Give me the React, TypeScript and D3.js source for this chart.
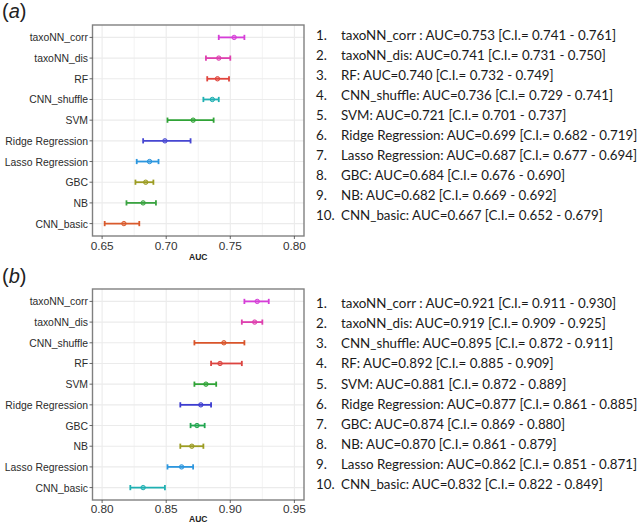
import React from "react";
import * as d3 from "d3";

// ---- Data: panel (a) ----
const modelsA = ["taxoNN_corr", "taxoNN_dis", "RF", "CNN_shuffle", "SVM", "Ridge Regression", "Lasso Regression", "GBC", "NB", "CNN_basic"];
const aucA = [0.753, 0.741, 0.740, 0.736, 0.721, 0.699, 0.687, 0.684, 0.682, 0.667];
const lowA = [0.741, 0.731, 0.732, 0.729, 0.701, 0.682, 0.677, 0.676, 0.669, 0.652];
const highA = [0.761, 0.750, 0.749, 0.741, 0.737, 0.719, 0.694, 0.690, 0.692, 0.679];
const colorsA = ["#d63ed8", "#de3fae", "#e0443c", "#1fb0b2", "#2fa336", "#4646d2", "#2c96de", "#9c9c22", "#3aa341", "#d95a2c"];
const ticksA = [0.65, 0.70, 0.75, 0.80];
const minorA = [0.675, 0.725, 0.775];
const domainA: [number, number] = [0.6425, 0.8075];

// ---- Data: panel (b) ----
const modelsB = ["taxoNN_corr", "taxoNN_dis", "CNN_shuffle", "RF", "SVM", "Ridge Regression", "GBC", "NB", "Lasso Regression", "CNN_basic"];
const aucB = [0.921, 0.919, 0.895, 0.892, 0.881, 0.877, 0.874, 0.870, 0.862, 0.832];
const lowB = [0.911, 0.909, 0.872, 0.885, 0.872, 0.861, 0.869, 0.861, 0.851, 0.822];
const highB = [0.930, 0.925, 0.911, 0.909, 0.889, 0.885, 0.880, 0.879, 0.871, 0.849];
const colorsB = ["#d63ed8", "#de3fae", "#d9542a", "#dc4440", "#2fa336", "#3c3cd0", "#22a650", "#9c9c22", "#2c96de", "#1fb0b2"];
const ticksB = [0.80, 0.85, 0.90, 0.95];
const minorB = [0.825, 0.875, 0.925];
const domainB: [number, number] = [0.7925, 0.9575];

const listA = [
  "taxoNN_corr : AUC=0.753 [C.I.= 0.741 - 0.761]",
  "taxoNN_dis: AUC=0.741 [C.I.= 0.731 - 0.750]",
  "RF: AUC=0.740 [C.I.= 0.732 - 0.749]",
  "CNN_shuffle: AUC=0.736 [C.I.= 0.729 - 0.741]",
  "SVM: AUC=0.721 [C.I.= 0.701 - 0.737]",
  "Ridge Regression: AUC=0.699 [C.I.= 0.682 - 0.719]",
  "Lasso Regression: AUC=0.687 [C.I.= 0.677 - 0.694]",
  "GBC: AUC=0.684 [C.I.= 0.676 - 0.690]",
  "NB: AUC=0.682 [C.I.= 0.669 - 0.692]",
  "CNN_basic: AUC=0.667 [C.I.= 0.652 - 0.679]",
];
const listB = [
  "taxoNN_corr : AUC=0.921 [C.I.= 0.911 - 0.930]",
  "taxoNN_dis: AUC=0.919 [C.I.= 0.909 - 0.925]",
  "CNN_shuffle: AUC=0.895 [C.I.= 0.872 - 0.911]",
  "RF: AUC=0.892 [C.I.= 0.885 - 0.909]",
  "SVM: AUC=0.881 [C.I.= 0.872 - 0.889]",
  "Ridge Regression: AUC=0.877 [C.I.= 0.861 - 0.885]",
  "GBC: AUC=0.874 [C.I.= 0.869 - 0.880]",
  "NB: AUC=0.870 [C.I.= 0.861 - 0.879]",
  "Lasso Regression: AUC=0.862 [C.I.= 0.851 - 0.871]",
  "CNN_basic: AUC=0.832 [C.I.= 0.822 - 0.849]",
];

type PanelProps = {
  top: number;
  bottom: number;
  labelGap: number;
  titleGap: number;
  models: string[];
  auc: number[];
  low: number[];
  high: number[];
  colors: string[];
  ticks: number[];
  minor: number[];
  domain: [number, number];
};

const LEFT = 92.5;
const RIGHT = 304;

function Panel(p: PanelProps) {
  const x = d3.scaleLinear().domain(p.domain).range([LEFT, RIGHT]);
  const y = d3
    .scalePoint<string>()
    .domain(p.models)
    .range([p.top, p.bottom])
    .padding(0.6);
  const grid = "#ebebeb";
  return (
    <g>
      <rect x={LEFT} y={p.top} width={RIGHT - LEFT} height={p.bottom - p.top} fill="white" />
      {p.minor.map((t) => (
        <line key={"mi" + t} x1={x(t)} x2={x(t)} y1={p.top} y2={p.bottom} stroke={grid} strokeWidth={0.6} />
      ))}
      {p.ticks.map((t) => (
        <line key={"ma" + t} x1={x(t)} x2={x(t)} y1={p.top} y2={p.bottom} stroke={grid} strokeWidth={1.1} />
      ))}
      {p.models.map((m) => (
        <line key={"hg" + m} x1={LEFT} x2={RIGHT} y1={y(m)} y2={y(m)} stroke={grid} strokeWidth={1.1} />
      ))}
      {p.models.map((m, i) => {
        const yy = y(m)!;
        const c = p.colors[i];
        return (
          <g key={"eb" + m}>
            <line x1={x(p.low[i])} x2={x(p.high[i])} y1={yy} y2={yy} stroke={c} strokeWidth={1.8} />
            <line x1={x(p.low[i])} x2={x(p.low[i])} y1={yy - 2.6} y2={yy + 2.6} stroke={c} strokeWidth={1.8} />
            <line x1={x(p.high[i])} x2={x(p.high[i])} y1={yy - 2.6} y2={yy + 2.6} stroke={c} strokeWidth={1.8} />
            <circle cx={x(p.auc[i])} cy={yy} r={2.2} fill={c} fillOpacity={0.45} stroke={c} strokeWidth={1} />
          </g>
        );
      })}
      <rect x={LEFT} y={p.top} width={RIGHT - LEFT} height={p.bottom - p.top} fill="none" stroke="#808080" strokeWidth={1.4} />
      {p.models.map((m) => (
        <g key={"yl" + m}>
          <line x1={LEFT - 3} x2={LEFT} y1={y(m)} y2={y(m)} stroke="#444" strokeWidth={0.8} />
          <text
            transform={`translate(${LEFT - 4.5},${y(m)! + 4}) scale(0.93,1)`}
            textAnchor="end"
            fontFamily="'Liberation Sans', Arial, sans-serif"
            fontSize={11.2}
            fill="#2b2b2b"
          >
            {m}
          </text>
        </g>
      ))}
      {p.ticks.map((t) => (
        <g key={"xl" + t}>
          <line x1={x(t)} x2={x(t)} y1={p.bottom} y2={p.bottom + 3} stroke="#444" strokeWidth={0.8} />
          <text
            x={x(t)}
            y={p.bottom + p.labelGap}
            textAnchor="middle"
            fontFamily="'Liberation Sans', Arial, sans-serif"
            fontSize={11.8}
            fill="#333"
          >
            {d3.format(".2f")(t)}
          </text>
        </g>
      ))}
      <text
        x={(LEFT + RIGHT) / 2}
        y={p.bottom + p.titleGap}
        textAnchor="middle"
        fontFamily="'Liberation Sans', Arial, sans-serif"
        fontSize={8.5}
        fontWeight="bold"
        fill="#222"
      >
        AUC
      </text>
    </g>
  );
}

function List({ items, y0 }: { items: string[]; y0: number }) {
  return (
    <g fontFamily="Lato, 'Open Sans', sans-serif" fontSize={14.2} fill="#1a1a1a">
      {items.map((s, i) => (
        <g key={i}>
          <text transform={`translate(316,${y0 + i * 20.05}) scale(0.94,1)`}>{`${i + 1}.`}</text>
          <text transform={`translate(341,${y0 + i * 20.05}) scale(0.94,1)`}>{s}</text>
        </g>
      ))}
    </g>
  );
}

export default function App() {
  return (
    <svg
      width={643}
      height={526}
      viewBox="0 0 643 526"
      style={{ position: "absolute", left: 0, top: 0, background: "white" }}
    >
      <rect width={643} height={526} fill="white" />
      <text x={2} y={18} fontFamily="'Liberation Sans', Arial, sans-serif" fontSize={20} fill="#222">
        (<tspan fontStyle="italic">a</tspan>)
      </text>
      <text x={2} y={283} fontFamily="'Liberation Sans', Arial, sans-serif" fontSize={20} fill="#222">
        (<tspan fontStyle="italic">b</tspan>)
      </text>
      <Panel
        top={25}
        bottom={236}
        labelGap={13.5}
        titleGap={24}
        models={modelsA}
        auc={aucA}
        low={lowA}
        high={highA}
        colors={colorsA}
        ticks={ticksA}
        minor={minorA}
        domain={domainA}
      />
      <Panel
        top={289}
        bottom={500}
        labelGap={12.5}
        titleGap={21.5}
        models={modelsB}
        auc={aucB}
        low={lowB}
        high={highB}
        colors={colorsB}
        ticks={ticksB}
        minor={minorB}
        domain={domainB}
      />
      <List items={listA} y0={39.5} />
      <List items={listB} y0={308.3} />
    </svg>
  );
}
